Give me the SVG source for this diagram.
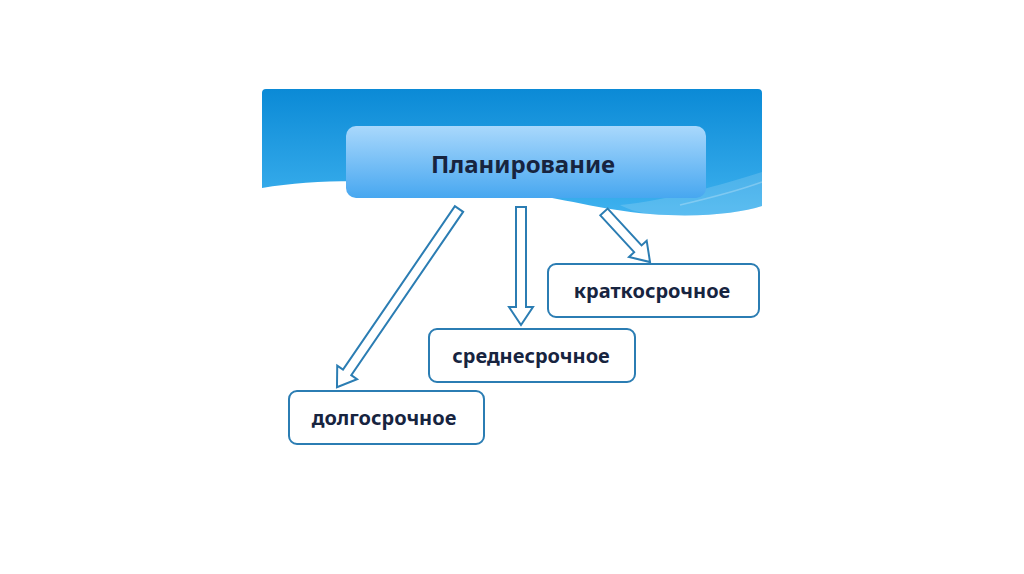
<svg xmlns="http://www.w3.org/2000/svg" width="1024" height="574" viewBox="0 0 1024 574">
<defs>
<linearGradient id="bg" x1="0" y1="0" x2="0" y2="1">
<stop offset="0" stop-color="#0b8ad6"/>
<stop offset="1" stop-color="#3fb2ef"/>
</linearGradient>
<linearGradient id="box" x1="0" y1="0" x2="0" y2="1">
<stop offset="0" stop-color="#a9d8fc"/>
<stop offset="1" stop-color="#47a7f0"/>
</linearGradient>
<style>
.lbl{font-family:"Noto Sans","Open Sans","DejaVu Sans",sans-serif;font-weight:bold;fill:#17243f;text-anchor:middle}
.node{fill:#ffffff;stroke:#2b7db3;stroke-width:2}
.arrow{fill:#ffffff;stroke:#2b7db3;stroke-width:2;stroke-linejoin:miter}
</style>
</defs>
<rect width="1024" height="574" fill="#ffffff"/>
<g id="banner">
<path d="M266,89 H758 Q762,89 762,93 V206 C740,213 700,218 650,214 C600,210 560,197 500,190 C420,182 330,176 262,188 V93 Q262,89 266,89 Z" fill="url(#bg)"/>
<path d="M620,205 C670,200 720,185 762,172 V206 C740,213 700,218 650,214 C635,212 628,209 620,205 Z" fill="#ffffff" opacity="0.15"/>
<path d="M680,205 C710,198 740,190 762,182" fill="none" stroke="#ffffff" stroke-opacity="0.25" stroke-width="1.5"/>
</g>
<g id="node-planning">
<rect x="346" y="126" width="360" height="72" rx="10" fill="url(#box)"/>
<text class="lbl" x="523" y="173" font-size="24">Планирование</text>
</g>
<g id="connectors">
<polygon class="arrow" transform="translate(459,209) rotate(124.4)" points="0,-5 198,-5 198,-12 216,0 198,12 198,5 0,5"/>
<polygon class="arrow" transform="translate(521,207) rotate(90)" points="0,-5 100,-5 100,-12 118,0 100,12 100,5 0,5"/>
<polygon class="arrow" transform="translate(604,212) rotate(47.4)" points="0,-5 50,-5 50,-12 68,0 50,12 50,5 0,5"/>
</g>
<g id="node-short">
<rect class="node" x="548" y="264" width="211" height="53" rx="8"/>
<text class="lbl" x="652" y="298" font-size="20">краткосрочное</text>
</g>
<g id="node-medium">
<rect class="node" x="429" y="329" width="206" height="53" rx="8"/>
<text class="lbl" x="531" y="363" font-size="20">среднесрочное</text>
</g>
<g id="node-long">
<rect class="node" x="289" y="391" width="195" height="53" rx="8"/>
<text class="lbl" x="384" y="425" font-size="20">долгосрочное</text>
</g>
</svg>
